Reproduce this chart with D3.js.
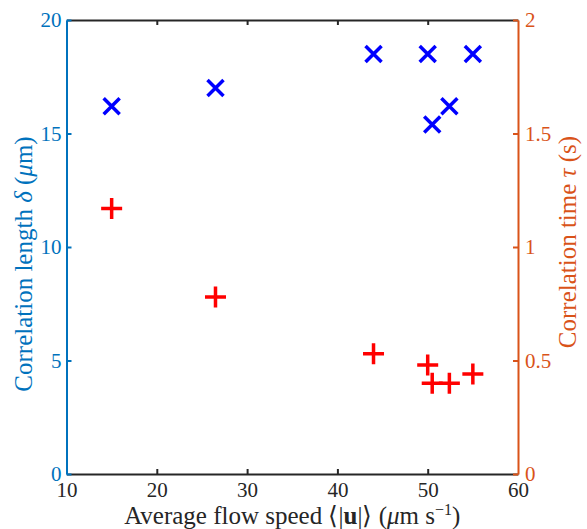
<!DOCTYPE html>
<html>
<head>
<meta charset="utf-8">
<script src="https://cdn.jsdelivr.net/npm/d3@7"></script>
<style>
  body { margin: 0; background: #fff; }
  svg text { font-family: "Liberation Serif", serif; }
</style>
</head>
<body>
<div id="chart"></div>
<script>
// flow speed (um/s) for each measurement
const speedDelta = [15, 26.5, 44, 50, 55, 50.5, 52.4];
const corrLength = [16.2, 17, 18.5, 18.5, 18.5, 15.4, 16.2];
const speedTau = [15, 26.5, 44, 50, 50.5, 52.4, 55];
const corrTime = [1.17, 0.78, 0.53, 0.48, 0.40, 0.40, 0.44];

const xTicks = [10, 20, 30, 40, 50, 60];
const leftTicks = [0, 5, 10, 15, 20];
const rightTicks = [0, 0.5, 1, 1.5, 2];

const W = 587, H = 529;
const dims = { left: 66.5, right: 518, top: 20, bottom: 474 };
const BLUE_AX = "#0072BD", ORANGE_AX = "#D95319", DARK = "#262626";
const FONT = "Liberation Serif";

const svg = d3.select("#chart").append("svg")
  .attr("width", W).attr("height", H);

const x = d3.scaleLinear().domain([10, 60]).range([dims.left, dims.right]);
const yL = d3.scaleLinear().domain([0, 20]).range([dims.bottom, dims.top]);
const yR = d3.scaleLinear().domain([0, 2]).range([dims.bottom, dims.top]);

const fs = 21;

// bottom and top axes
const bottomAxis = svg.append("g")
  .attr("transform", `translate(0,${dims.bottom})`)
  .call(d3.axisBottom(x).tickValues(xTicks).tickSizeInner(-5).tickSizeOuter(0).tickPadding(8));
const topAxis = svg.append("g")
  .attr("transform", `translate(0,${dims.top})`)
  .call(d3.axisTop(x).tickValues(xTicks).tickSizeInner(-5).tickSizeOuter(0).tickFormat(""));
[bottomAxis, topAxis].forEach(g => {
  g.attr("font-family", FONT);
  g.select(".domain").attr("stroke", DARK).attr("stroke-width", 2);
  g.selectAll(".tick line").attr("stroke", DARK).attr("stroke-width", 2);
  g.selectAll(".tick text").attr("fill", DARK).attr("font-size", fs);
  // end ticks sit under the coloured y axes
  g.selectAll(".tick").filter(d => d === 10 || d === 60).select("line").remove();
});

const leftAxis = svg.append("g")
  .attr("transform", `translate(${dims.left},0)`)
  .call(d3.axisLeft(yL).tickValues(leftTicks).tickSizeInner(-5).tickSizeOuter(0).tickPadding(5));
const rightAxis = svg.append("g")
  .attr("transform", `translate(${dims.right},0)`)
  .call(d3.axisRight(yR).tickValues(rightTicks).tickSizeInner(-5).tickSizeOuter(0).tickPadding(7)
    .tickFormat(d => d));
[[leftAxis, BLUE_AX], [rightAxis, ORANGE_AX]].forEach(([g, c]) => {
  g.attr("font-family", FONT);
  g.select(".domain").attr("stroke", c).attr("stroke-width", 2);
  g.selectAll(".tick line").attr("stroke", c).attr("stroke-width", 2);
  g.selectAll(".tick text").attr("fill", c).attr("font-size", fs);
});

// markers
const cross = 8;
svg.append("g").selectAll("path")
  .data(speedDelta.map((s, i) => [s, corrLength[i]]))
  .join("path")
    .attr("transform", d => `translate(${x(d[0])},${yL(d[1])})`)
    .attr("d", `M${-cross},${-cross}L${cross},${cross}M${-cross},${cross}L${cross},${-cross}`)
    .attr("stroke", "#0000FF").attr("stroke-width", 3.5).attr("fill", "none");

const plus = 10.5;
svg.append("g").selectAll("path")
  .data(speedTau.map((s, i) => [s, corrTime[i]]))
  .join("path")
    .attr("transform", d => `translate(${x(d[0])},${yR(d[1])})`)
    .attr("d", `M${-plus},0L${plus},0M0,${-plus}L0,${plus}`)
    .attr("stroke", "#FF0000").attr("stroke-width", 3.5).attr("fill", "none");

// axis labels
const lfs = 25;
const xl = svg.append("text")
  .attr("x", (dims.left + dims.right) / 2).attr("y", 524)
  .attr("text-anchor", "middle").attr("font-size", lfs).attr("fill", DARK);
xl.append("tspan").text("Average flow speed \u27E8|");
xl.append("tspan").attr("font-weight", "bold").text("u");
xl.append("tspan").text("|\u27E9 (");
xl.append("tspan").attr("font-style", "italic").text("\u03BC");
xl.append("tspan").text("m s");
xl.append("tspan").attr("font-size", 16).attr("dy", -9).text("\u22121");
xl.append("tspan").attr("dy", 9).text(")");

const yl = svg.append("text")
  .attr("transform", `translate(32,264) rotate(-90)`)
  .attr("text-anchor", "middle").attr("font-size", lfs).attr("fill", BLUE_AX);
yl.append("tspan").text("Correlation length ");
yl.append("tspan").attr("font-style", "italic").text("\u03B4");
yl.append("tspan").text(" (");
yl.append("tspan").attr("font-style", "italic").text("\u03BC");
yl.append("tspan").text("m)");

const yr = svg.append("text")
  .attr("transform", `translate(576,242) rotate(-90)`)
  .attr("text-anchor", "middle").attr("font-size", lfs).attr("fill", ORANGE_AX);
yr.append("tspan").text("Correlation time ");
yr.append("tspan").attr("font-style", "italic").text("\u03C4");
yr.append("tspan").text(" (s)");
</script>
</body>
</html>
